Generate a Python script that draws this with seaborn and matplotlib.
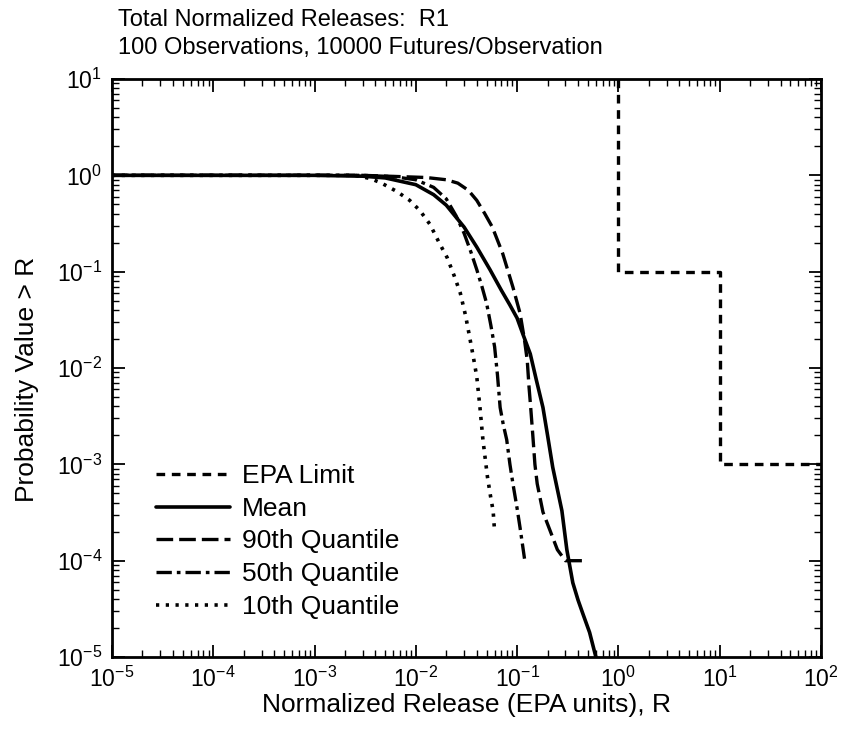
import numpy as np
import pandas as pd
import matplotlib
matplotlib.use("Agg")
import matplotlib.pyplot as plt
import seaborn as sns

# data (log-log axes)
epa_x = [1, 1, 10, 10, 100]
epa_y = [10, 0.1, 0.1, 0.001, 0.001]

mean_x = [1e-5, 1e-3, 3e-3, 5e-3, 0.01, 0.015, 0.02, 0.03, 0.04, 0.054, 0.07, 0.085, 0.1, 0.115, 0.135,
          0.155, 0.18, 0.2, 0.225, 0.25, 0.277, 0.31, 0.355, 0.4, 0.447, 0.52, 0.6]
mean_y = [1, 1, 0.98, 0.94, 0.8, 0.63, 0.49, 0.29, 0.18, 0.105, 0.064, 0.045, 0.033, 0.022, 0.014,
          0.0075, 0.0039, 0.002, 9.3e-4, 5.5e-4, 3.3e-4, 1.3e-4, 5.9e-5, 3.9e-5, 2.8e-5, 1.8e-5, 1e-5]

q90_x = [1e-5, 3e-3, 0.0126, 0.02, 0.026, 0.033, 0.04, 0.048, 0.057, 0.072, 0.091, 0.107, 0.118,
         0.126, 0.131, 0.136, 0.143, 0.15, 0.158, 0.18, 0.21, 0.25, 0.3, 0.47]
q90_y = [1, 1, 0.95, 0.9, 0.83, 0.7, 0.55, 0.4, 0.29, 0.155, 0.069, 0.037, 0.02,
         0.012, 0.0065, 0.004, 0.002, 0.001, 6.3e-4, 3.2e-4, 2.1e-4, 1.3e-4, 1e-4, 1e-4]

q50_x = [1e-5, 3e-3, 6e-3, 0.01, 0.015, 0.02, 0.025, 0.03, 0.035, 0.04, 0.045, 0.05, 0.055, 0.06,
         0.064, 0.068, 0.073, 0.079, 0.085, 0.091, 0.1, 0.107, 0.115, 0.12]
q50_y = [1, 1, 0.97, 0.9, 0.75, 0.57, 0.38, 0.25, 0.16, 0.105, 0.07, 0.047, 0.028, 0.0166,
         0.0085, 0.0039, 0.0026, 0.0018, 0.001, 6.3e-4, 3.5e-4, 2.2e-4, 1.3e-4, 9.5e-5]

q10_x = [1e-5, 2.5e-3, 3.5e-3, 4.5e-3, 6.5e-3, 8.7e-3, 0.011, 0.0138, 0.017, 0.0204, 0.024, 0.0275,
         0.031, 0.034, 0.037, 0.04, 0.043, 0.046, 0.051, 0.055, 0.058, 0.06]
q10_y = [1, 1, 0.93, 0.84, 0.68, 0.55, 0.43, 0.31, 0.2, 0.14, 0.09, 0.06,
         0.035, 0.021, 0.013, 0.0081, 0.0039, 0.0018, 7.4e-4, 4.5e-4, 3.3e-4, 2e-4]

sns.set_style("ticks")
plt.rcParams["font.family"] = ["Liberation Sans", "DejaVu Sans"]
plt.rcParams["mathtext.fontset"] = "custom"
plt.rcParams["mathtext.rm"] = "Liberation Sans"
plt.rcParams["text.color"] = "black"
plt.rcParams["axes.labelcolor"] = "black"
plt.rcParams["xtick.color"] = "black"
plt.rcParams["ytick.color"] = "black"

fig = plt.figure(figsize=(8.45, 7.37), dpi=100)
ax = fig.add_axes([0.1325, 0.1085, 0.839, 0.7843])

series = [
    ("EPA Limit", epa_x, epa_y, dict(linestyle=(0, (2.6, 2.0)), linewidth=2.4)),
    ("Mean", mean_x, mean_y, dict(linestyle="-", linewidth=2.6)),
    ("90th Quantile", q90_x, q90_y, dict(linestyle=(0, (5.0, 1.8)), linewidth=2.4)),
    ("50th Quantile", q50_x, q50_y, dict(linestyle=(0, (4.6, 1.5, 1.1, 1.5)), linewidth=2.4)),
    ("10th Quantile", q10_x, q10_y, dict(linestyle=(0, (0.9, 1.8)), linewidth=2.6)),
]

for name, xs, ys, st in series:
    d = pd.DataFrame({"x": xs, "y": ys})
    sns.lineplot(data=d, x="x", y="y", ax=ax, sort=False, estimator=None,
                 color="black", label=name, **st)

ax.set_xscale("log")
ax.set_yscale("log")
ax.set_xlim(1e-5, 1e2)
ax.set_ylim(1e-5, 1e1)
ax.set_xticks([10.0 ** k for k in range(-5, 3)])
ax.set_yticks([10.0 ** k for k in range(-5, 2)])

ax.tick_params(which="both", direction="in", top=True, right=True, labelsize=16.5, pad=7)
ax.tick_params(which="major", length=9, width=1.3)
ax.tick_params(which="minor", length=5, width=1.0)
for s in ax.spines.values():
    s.set_linewidth(2)
    s.set_color("black")

ax.set_xlabel("Normalized Release (EPA units), R", fontsize=19)
ax.set_ylabel("Probability Value > R", fontsize=19)
ax.xaxis.set_label_coords(0.5, -0.062)
ax.yaxis.set_label_coords(-0.103, 0.48)

fig.text(0.14, 0.988, "Total Normalized Releases:  R1", fontsize=17, va="top", ha="left")
fig.text(0.14, 0.950, "100 Observations, 10000 Futures/Observation", fontsize=17, va="top", ha="left")

leg = ax.legend(loc="lower left", bbox_to_anchor=(0.062, 0.066), frameon=False, fontsize=19,
                handlelength=2.8, handletextpad=0.45, labelspacing=0.33,
                borderpad=0, borderaxespad=0)
for h in leg.get_lines():
    h.set_color("black")

fig.savefig("out.png", dpi=100)
